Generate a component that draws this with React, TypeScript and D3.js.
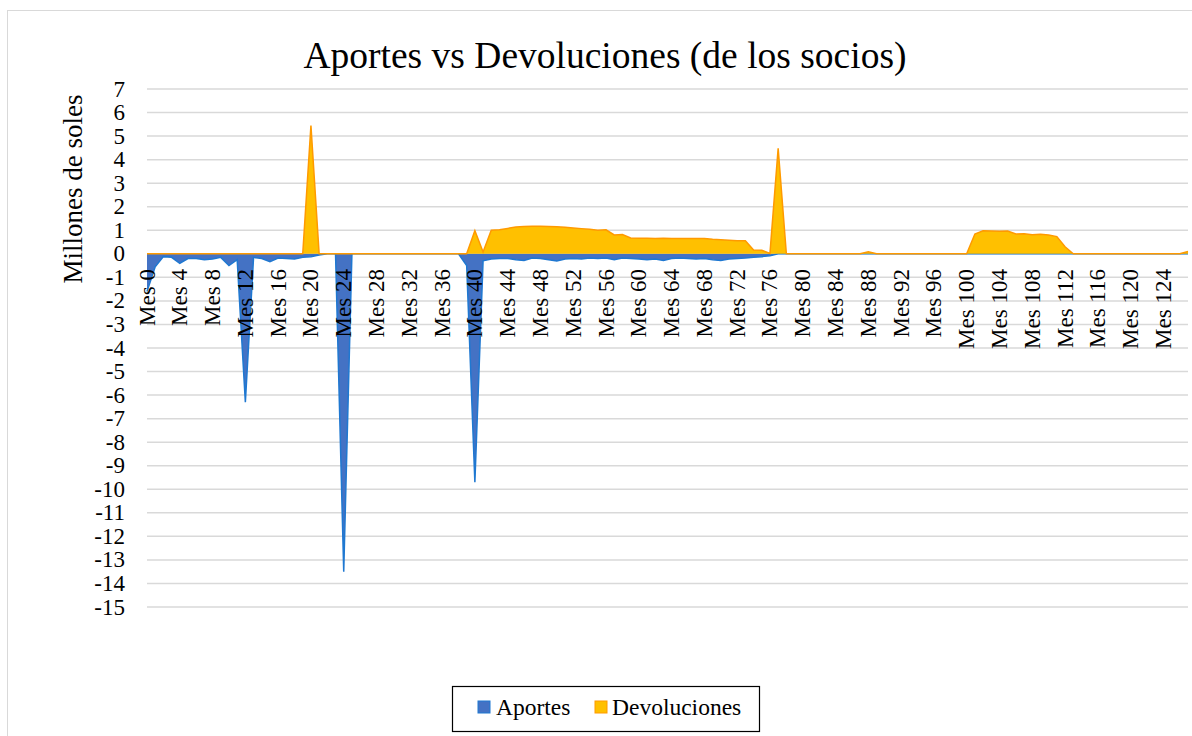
import React from "react";
import * as d3 from "d3";

const categories: string[] = d3.range(0, 128).map((i) => `Mes ${i}`);

// Aportes (millones de soles), negative values
const aportes: number[] = [
  -1.6, -0.55, -0.12, -0.15, -0.4, -0.2, -0.2, -0.25, -0.22, -0.15,
  -0.5, -0.25, -6.3, -0.15, -0.2, -0.33, -0.18, -0.2, -0.22, -0.15,
  -0.12, -0.05, 0, 0, -13.5, 0, 0, 0, 0, 0,
  0, 0, 0, 0, 0, 0, 0, 0, 0, -0.5,
  -9.7, -0.3, -0.22, -0.2, -0.2, -0.25, -0.28, -0.18, -0.2, -0.25,
  -0.3, -0.22, -0.2, -0.22, -0.18, -0.2, -0.18, -0.25, -0.18, -0.2,
  -0.22, -0.25, -0.22, -0.28, -0.2, -0.18, -0.2, -0.22, -0.2, -0.25,
  -0.28, -0.22, -0.2, -0.18, -0.15, -0.12, -0.08, 0, 0, 0,
  0, 0, 0, 0, 0, 0, 0, 0, 0, 0,
  0, 0, 0, 0, 0, 0, 0, 0, 0, 0,
  0, 0, 0, 0, 0, 0, 0, 0, 0, 0,
  0, 0, 0, 0, 0, 0, 0, 0, 0, 0,
  0, 0, 0, 0, 0, 0, 0, 0,
];

// Devoluciones (millones de soles), positive values
const devoluciones: number[] = [
  0, 0, 0, 0, 0, 0, 0, 0, 0, 0,
  0, 0, 0, 0, 0, 0, 0, 0, 0, 0,
  5.45, 0, 0, 0, 0, 0, 0, 0, 0, 0,
  0, 0, 0, 0, 0, 0, 0, 0, 0, 0,
  0.98, 0.08, 1.0, 1.02, 1.08, 1.14, 1.16, 1.17, 1.17, 1.16,
  1.15, 1.13, 1.1, 1.07, 1.04, 1.0, 1.02, 0.8, 0.82, 0.67,
  0.66, 0.66, 0.65, 0.66, 0.65, 0.65, 0.65, 0.65, 0.65, 0.62,
  0.6, 0.58, 0.56, 0.56, 0.16, 0.15, 0.02, 4.48, 0, 0,
  0, 0, 0, 0, 0, 0, 0, 0, 0.09, 0,
  0, 0, 0, 0, 0, 0, 0, 0, 0, 0,
  0, 0.84, 0.98, 0.97, 0.96, 0.97, 0.84, 0.85, 0.81, 0.83,
  0.8, 0.73, 0.3, 0, 0, 0, 0, 0, 0, 0,
  0, 0, 0, 0, 0, 0, 0, 0.1,
];

const yTicks: number[] = d3.range(-15, 8);
const xTickStep = 4;
const title = "Aportes vs Devoluciones (de los socios)";
const yTitle = "Millones de soles";
const seriesNames = ["Aportes", "Devoluciones"];

const W = 1192;
const H = 736;
const FONT = "'Liberation Serif', 'Times New Roman', serif";

export default function App() {
  const x = d3.scalePoint<string>().domain(categories).range([147, 1188]).padding(0);
  const y = d3.scaleLinear().domain([-15, 7]).range([607, 89]);

  const area = d3
    .area<number>()
    .x((_, i) => x(categories[i]) as number)
    .y0(y(0))
    .y1((d) => y(d));
  const line = d3
    .line<number>()
    .x((_, i) => x(categories[i]) as number)
    .y((d) => y(d));

  const xLabels = categories.filter((_, i) => i % xTickStep === 0);

  return (
    <svg
      width={W}
      height={H}
      style={{ position: "absolute", left: 0, top: 0, background: "#fff" }}
      fontFamily={FONT}
    >
      <rect x={7.5} y={10.5} width={1200} height={740} fill="#fff" stroke="#d9d9d9" />
      <text x={605} y={68} textAnchor="middle" fontSize={37.5} fill="#000">
        {title}
      </text>
      {yTicks.map((t) => (
        <line
          key={"g" + t}
          x1={147}
          x2={1188}
          y1={y(t)}
          y2={y(t)}
          stroke="#d9d9d9"
          strokeWidth={1.5}
        />
      ))}
      {yTicks.map((t) => (
        <text
          key={"t" + t}
          x={125}
          y={y(t)}
          textAnchor="end"
          dominantBaseline="central"
          fontSize={23}
          fill="#000"
        >
          {String(t)}
        </text>
      ))}
      <text
        transform={`translate(73,189) rotate(-90)`}
        textAnchor="middle"
        dominantBaseline="central"
        fontSize={27}
        fill="#000"
      >
        {yTitle}
      </text>
      <path d={area(aportes) ?? ""} fill="#4472C4" />
      <path d={line(aportes) ?? ""} fill="none" stroke="#1F78D1" strokeWidth={1.5} />
      <path d={area(devoluciones) ?? ""} fill="#FFC000" />
      <path d={line(devoluciones) ?? ""} fill="none" stroke="#FF9A00" strokeWidth={1.5} />
      {xLabels.map((c) => (
        <text
          key={c}
          transform={`translate(${x(c)},269) rotate(-90)`}
          textAnchor="end"
          dominantBaseline="central"
          fontSize={23}
          fill="#000"
        >
          {c}
        </text>
      ))}
      <g>
        <rect x={452.5} y={686.5} width={307} height={45} fill="#fff" stroke="#000" strokeWidth={1.2} />
        <rect x={478} y={701} width={12} height={12} fill="#4472C4" stroke="#1F78D1" strokeWidth={1} />
        <text x={496} y={715} fontSize={23.5} fill="#000">
          {seriesNames[0]}
        </text>
        <rect x={595} y={701} width={12} height={12} fill="#FFC000" stroke="#FF9A00" strokeWidth={1} />
        <text x={612} y={715} fontSize={23.5} fill="#000">
          {seriesNames[1]}
        </text>
      </g>
    </svg>
  );
}
